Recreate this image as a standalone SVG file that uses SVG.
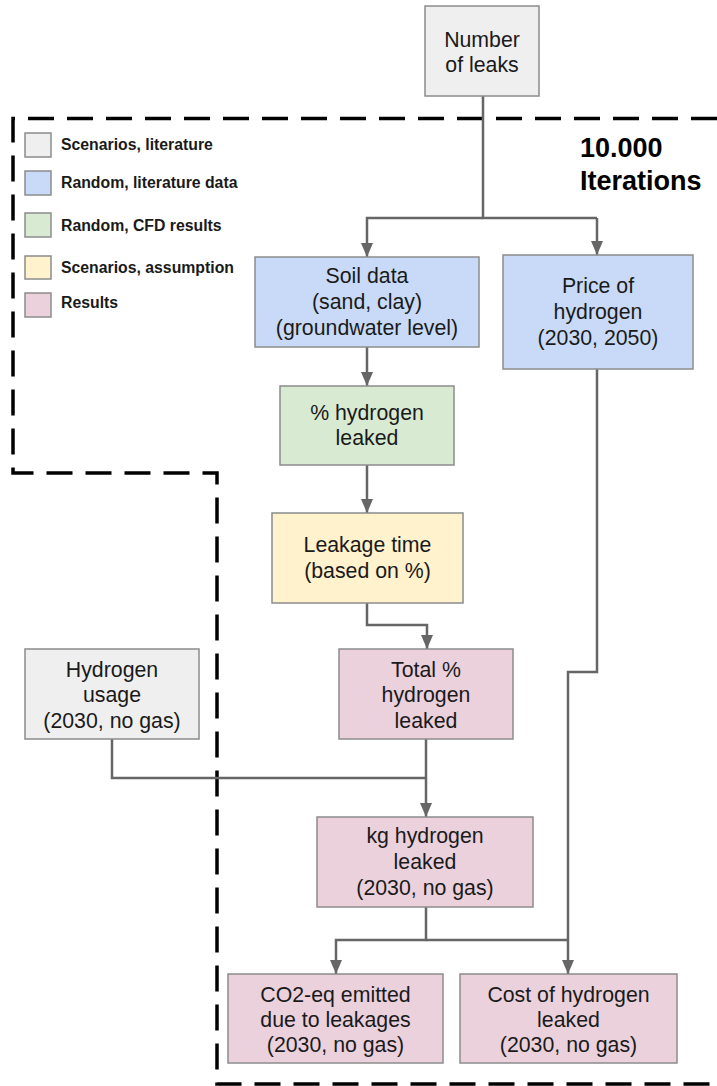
<svg xmlns="http://www.w3.org/2000/svg" width="717" height="1086" viewBox="0 0 717 1086">
<style>
.box{stroke:#8c8c8c;stroke-width:1.5}
.gray{fill:#efefef}.blue{fill:#c9daf8}.green{fill:#d9ead3}.yellow{fill:#fff2cc}.pink{fill:#ead1dc}
.t{font-family:"Liberation Sans",Arial,sans-serif;font-size:21.3px;fill:#1a1a1a;text-anchor:middle}
.lg{font-family:"Liberation Sans",Arial,sans-serif;font-size:15.8px;font-weight:bold;fill:#1a1a1a}
.it{font-family:"Liberation Sans",Arial,sans-serif;font-size:27px;font-weight:bold;fill:#000}
.c{fill:none;stroke:#666;stroke-width:2.5}
.ca{fill:none;stroke:#666;stroke-width:2.5;marker-end:url(#ah)}
</style>
<defs>
<marker id="ah" markerUnits="userSpaceOnUse" viewBox="0 0 14 12" refX="14" refY="6" markerWidth="14" markerHeight="12" orient="auto">
<path d="M0,0 L14,6 L0,12 z" fill="#666"/>
</marker>
</defs>
<rect width="717" height="1086" fill="#fff"/>
<path d="M717 118.5 H13 V473 H217 V1084 H717" fill="none" stroke="#000" stroke-width="3.5" stroke-dasharray="26 13"/>
<g id="legend">
<rect class="box gray" x="25" y="133" width="26" height="24"/>
<text class="lg" x="61" y="150">Scenarios, literature</text>
<rect class="box blue" x="25" y="171" width="26" height="24"/>
<text class="lg" x="61" y="188">Random, literature data</text>
<rect class="box green" x="25" y="213" width="26" height="24"/>
<text class="lg" x="61" y="231">Random, CFD results</text>
<rect class="box yellow" x="25" y="256" width="26" height="23"/>
<text class="lg" x="61" y="273">Scenarios, assumption</text>
<rect class="box pink" x="25" y="293" width="26" height="24"/>
<text class="lg" x="61" y="308">Results</text>
</g>
<g id="iterations">
<text class="it" x="580" y="157">10.000</text>
<text class="it" x="580" y="190">Iterations</text>
</g>
<g id="connectors">
<path class="c" d="M483 96 V218 H597"/>
<path class="ca" d="M483 218 H367 V257"/>
<path class="ca" d="M597 218 V255"/>
<path class="ca" d="M367 347 V386"/>
<path class="ca" d="M367 465 V513"/>
<path class="ca" d="M367 603 V625 H427 V649"/>
<path class="c" d="M112 739 V778 H426"/>
<path class="ca" d="M426 739 V817"/>
<path class="ca" d="M597 369 V672 H568 V974"/>
<path class="ca" d="M426 907 V940 H336 V974"/>
<path class="c" d="M426 940 H568"/>
</g>
<g id="n-leaks">
<rect class="box gray" x="425" y="6" width="114" height="90"/>
<text class="t" x="482" y="47">Number</text>
<text class="t" x="482" y="72">of leaks</text>
</g>
<g id="n-soil">
<rect class="box blue" x="255" y="257" width="224" height="90"/>
<text class="t" x="367" y="283">Soil data</text>
<text class="t" x="367" y="309">(sand, clay)</text>
<text class="t" x="367" y="335">(groundwater level)</text>
</g>
<g id="n-price">
<rect class="box blue" x="503" y="255" width="190" height="114"/>
<text class="t" x="598" y="293">Price of</text>
<text class="t" x="598" y="319">hydrogen</text>
<text class="t" x="598" y="345">(2030, 2050)</text>
</g>
<g id="n-pct">
<rect class="box green" x="280" y="386" width="174" height="79"/>
<text class="t" x="367" y="420">% hydrogen</text>
<text class="t" x="367" y="445">leaked</text>
</g>
<g id="n-time">
<rect class="box yellow" x="272" y="513" width="191" height="90"/>
<text class="t" x="367.5" y="552">Leakage time</text>
<text class="t" x="367.5" y="578">(based on %)</text>
</g>
<g id="n-total">
<rect class="box pink" x="339" y="649" width="174" height="90"/>
<text class="t" x="426" y="677">Total %</text>
<text class="t" x="426" y="702">hydrogen</text>
<text class="t" x="426" y="728">leaked</text>
</g>
<g id="n-usage">
<rect class="box gray" x="25" y="649" width="174" height="90"/>
<text class="t" x="112" y="677">Hydrogen</text>
<text class="t" x="112" y="702">usage</text>
<text class="t" x="112" y="728">(2030, no gas)</text>
</g>
<g id="n-kg">
<rect class="box pink" x="317" y="817" width="216" height="90"/>
<text class="t" x="425" y="843">kg hydrogen</text>
<text class="t" x="425" y="869">leaked</text>
<text class="t" x="425" y="895">(2030, no gas)</text>
</g>
<g id="n-co2">
<rect class="box pink" x="228" y="974" width="215" height="89"/>
<text class="t" x="335.5" y="1002">CO2-eq emitted</text>
<text class="t" x="335.5" y="1027">due to leakages</text>
<text class="t" x="335.5" y="1052">(2030, no gas)</text>
</g>
<g id="n-cost">
<rect class="box pink" x="460" y="974" width="217" height="89"/>
<text class="t" x="568.5" y="1002">Cost of hydrogen</text>
<text class="t" x="568.5" y="1027">leaked</text>
<text class="t" x="568.5" y="1052">(2030, no gas)</text>
</g>
</svg>
